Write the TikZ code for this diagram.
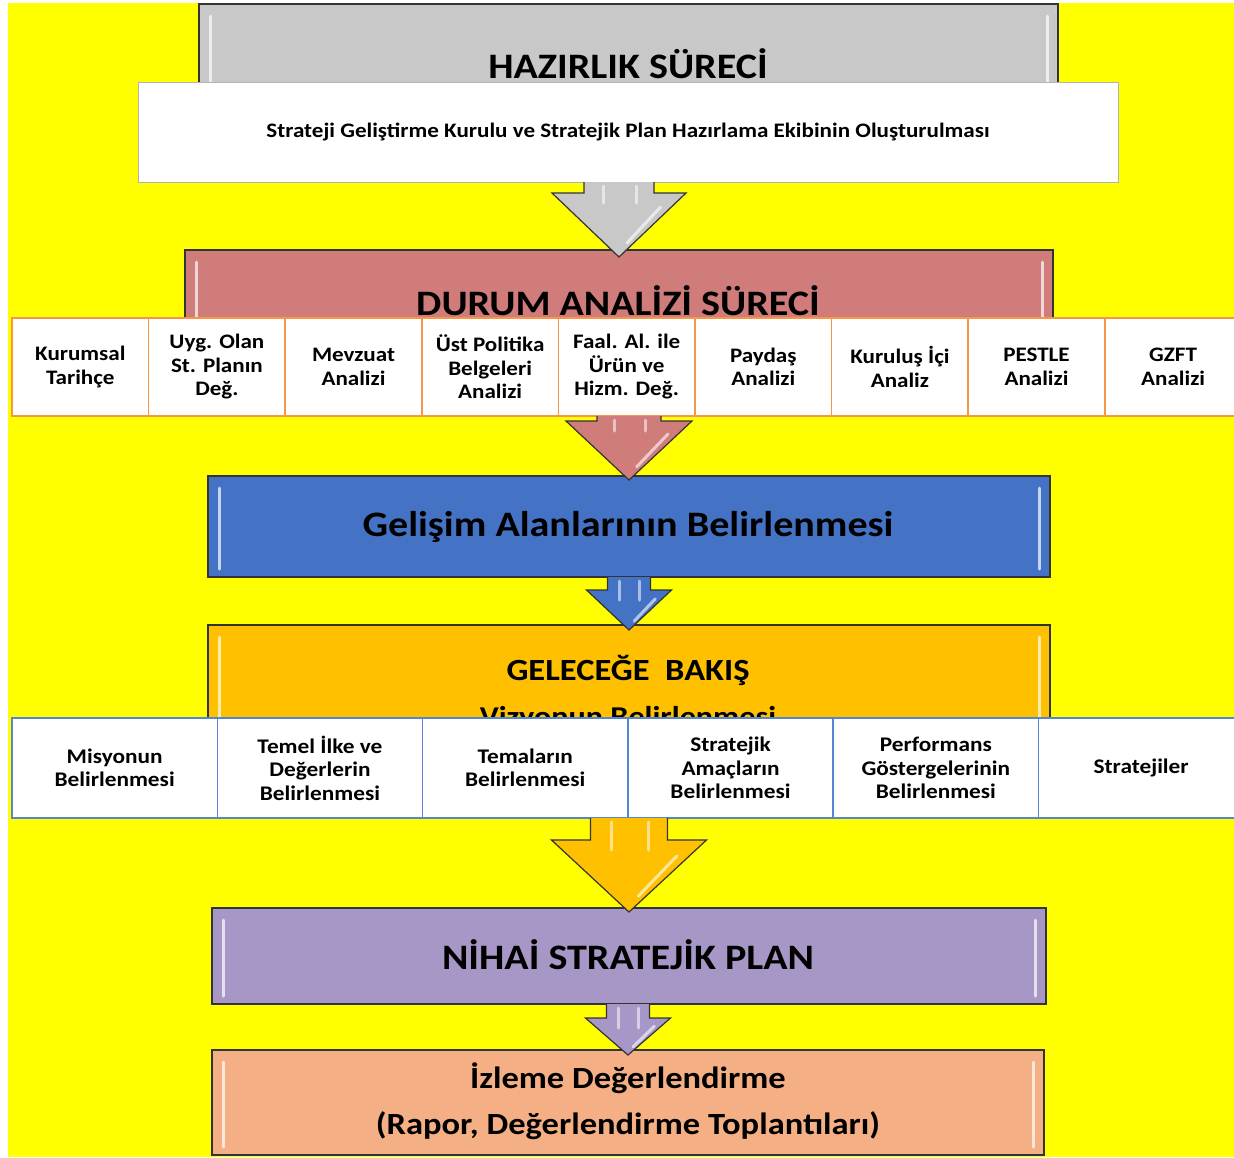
\documentclass[tikz,border=0pt]{standalone}
\usepackage{fontspec}
\setmainfont{Carlito}[FakeStretch=1.12]
\usetikzlibrary{calc}
\definecolor{bgyellow}{HTML}{FFFF00}
\definecolor{graybox}{HTML}{C8C8C8}
\definecolor{pinkbox}{HTML}{D07C7A}
\definecolor{bluebox}{HTML}{4472C4}
\definecolor{orangebox}{HTML}{FFC000}
\definecolor{purplebox}{HTML}{A797C7}
\definecolor{peachbox}{HTML}{F4B084}
\definecolor{cellorange}{HTML}{F79646}
\definecolor{cellblue}{HTML}{5585D6}
\definecolor{darkedge}{HTML}{333333}
\newcommand{\blockarrow}[8]{% from, to, shaft half, head half, head length, overshoot, fill
  \coordinate (T) at ($(#2.north)+(0,#6)$);
  \coordinate (H) at ($(T)+(0,-#5)$);
  \coordinate (S) at (#1.south -| T);
  \draw[darkedge, line width=1.2pt, fill=#7, line join=miter]
    ($(S)+(-#3,0)$) -- ($(H)+(-#3,0)$) -- ($(H)+(-#4,0)$) -- (T)
    -- ($(H)+(#4,0)$) -- ($(H)+(#3,0)$) -- ($(S)+(#3,0)$);
  \draw[white, opacity=0.55, line width=3pt, line cap=round]
    ($(S)+(-#3*0.45,4)$) -- ($(H)+(-#3*0.45,10)$);
  \draw[white, opacity=0.55, line width=3pt, line cap=round]
    ($(S)+(#3*0.5,4)$) -- ($(H)+(#3*0.5,10)$);
  \draw[white, opacity=0.6, line width=3pt, line cap=round]
    ($(H)+(#4*0.62,#5*0.22)$) -- ($(T)+(#4*0.12,-#5*0.22)$);
  #8
}
\newcommand{\bevel}[1]{%
  \draw[white, opacity=0.7, line width=3pt, line cap=round]
    ([xshift=11pt,yshift=-12pt]#1.north west) -- ([xshift=11pt,yshift=8pt]#1.south west);
  \draw[white, opacity=0.7, line width=3pt, line cap=round]
    ([xshift=-11pt,yshift=-12pt]#1.north east) -- ([xshift=-11pt,yshift=8pt]#1.south east);
}
\begin{document}
\begin{tikzpicture}[x=1pt,y=-1pt,
  stage/.style={draw=darkedge, line width=1.4pt, inner sep=0pt, outer sep=0pt},
  bigtitle/.style={font=\fontsize{35.8}{40}\selectfont\bfseries, inner sep=0pt, text=black},
  midtitle/.style={font=\fontsize{30.8}{35}\selectfont\bfseries, inner sep=0pt, text=black},
  cellA/.style={draw=cellorange, line width=1.5pt, fill=white, minimum width=136.6pt,
    minimum height=98pt, inner sep=0pt, outer sep=0pt, align=center,
    font=\fontsize{20.6}{23.5}\selectfont\bfseries, anchor=west},
  cellB/.style={draw=cellblue, line width=1.5pt, fill=white, minimum width=205.3pt,
    minimum height=100pt, inner sep=0pt, outer sep=0pt, align=center,
    font=\fontsize{20.8}{23.5}\selectfont\bfseries, anchor=west}]
\useasboundingbox (0,0) rectangle (1234,1157);
\clip (0,0) rectangle (1234,1157);
\fill[white] (0,0) rectangle (1234,1157);
\fill[bgyellow] (8,3) rectangle (1234,1157);

% stage boxes
\node[stage, fill=graybox, minimum width=859pt, minimum height=110pt] (hz) at (628.5,59) {};
\bevel{hz}
\node[bigtitle] (hzt) at (628,64) {HAZIRLIK SÜRECİ};

\node[stage, fill=pinkbox, minimum width=868pt, minimum height=82pt] (dur) at (619,291) {};
\bevel{dur}
\node[bigtitle] (durt) at (618,301) {DURUM ANALİZİ SÜRECİ};

\node[stage, fill=bluebox, minimum width=842pt, minimum height=101pt] (gel) at (629,526.5) {};
\bevel{gel}
\node[bigtitle] (gelt) at (628,527) {Gelişim Alanlarının Belirlenmesi};

\node[stage, fill=orangebox, minimum width=842pt, minimum height=110pt] (gb) at (629,680) {};
\bevel{gb}
\node[midtitle] (gbt) at (628,670) {GELECEĞE\ \ BAKIŞ};
\node[font=\fontsize{28.7}{33}\selectfont\bfseries, inner sep=0pt, anchor=base] (viz) at (628,726) {Vizyonun Belirlenmesi};

\node[stage, fill=purplebox, minimum width=834pt, minimum height=96pt] (nsp) at (629,956) {};
\bevel{nsp}
\node[bigtitle] (nspt) at (628,955) {NİHAİ STRATEJİK PLAN};

\node[stage, fill=peachbox, minimum width=832pt, minimum height=105pt] (iz) at (628,1102.5) {};
\bevel{iz}
\node[midtitle] (izt1) at (628,1078) {İzleme Değerlendirme};
\node[midtitle] (izt2) at (628,1126) {(Rapor, Değerlendirme Toplantıları)};

% white box
\node[stage, draw=black!30, line width=1pt, fill=white, minimum width=980pt, minimum height=100pt,
  font=\fontsize{20.6}{24}\selectfont\bfseries] (wb) at (628,132)
  {Strateji Geliştirme Kurulu ve Stratejik Plan Hazırlama Ekibinin Oluşturulması};

% cell row 1
\node[cellA] (c1) at (12,367) {Kurumsal\\Tarihçe};
\node[cellA] (c2) at (c1.east) {Uyg. Olan\\St. Planın\\Değ.};
\node[cellA] (c3) at (c2.east) {Mevzuat\\Analizi};
\node[cellA] (c4) at (c3.east) {Üst Politika\\Belgeleri\\Analizi};
\node[cellA] (c5) at (c4.east) {Faal. Al. ile\\Ürün ve\\Hizm. Değ.};
\node[cellA] (c6) at (c5.east) {Paydaş\\Analizi};
\node[cellA] (c7) at (c6.east) {Kuruluş İçi\\Analiz};
\node[cellA] (c8) at (c7.east) {PESTLE\\Analizi};
\node[cellA] (c9) at (c8.east) {GZFT\\Analizi};

% arrows
\blockarrow{wb}{dur}{35}{67}{64}{7}{graybox}{}
\blockarrow{c5}{gel}{32}{63}{59}{4}{pinkbox}{}
\blockarrow{gel}{gb}{21.5}{42.5}{40}{5}{bluebox}{}

% cell row 2
\node[cellB] (m1) at (12,768) {Misyonun\\Belirlenmesi};
\node[cellB] (m2) at (m1.east) {Temel İlke ve\\Değerlerin\\Belirlenmesi};
\node[cellB] (m3) at (m2.east) {Temaların\\Belirlenmesi};
\node[cellB] (m4) at (m3.east) {Stratejik\\Amaçların\\Belirlenmesi};
\node[cellB] (m5) at (m4.east) {Performans\\Göstergelerinin\\Belirlenmesi};
\node[cellB] (m6) at (m5.east) {Stratejiler};

\blockarrow{m4}{nsp}{38.5}{77.5}{72}{4}{orangebox}{}
\blockarrow{nsp}{iz}{21.5}{42.5}{37}{5}{purplebox}{}
\end{tikzpicture}
\end{document}
